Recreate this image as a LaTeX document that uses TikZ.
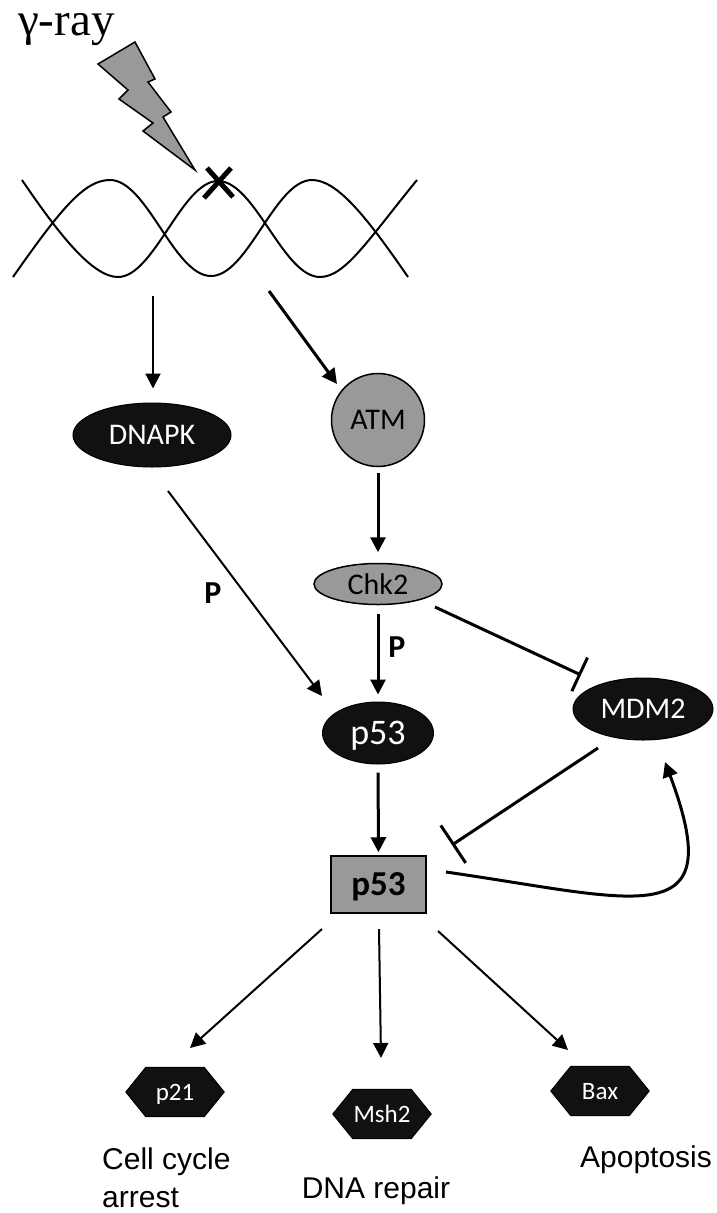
\documentclass[tikz,border=0pt]{standalone}
\usepackage{fontspec}
\newfontfamily\carlito{Carlito}
\newfontfamily\arialf{Liberation Sans}
\newfontfamily\timesf{Liberation Serif}
\usetikzlibrary{arrows.meta,shapes.geometric}
\definecolor{midgray}{RGB}{153,153,153}
\definecolor{nearblack}{RGB}{17,17,17}
\pgfdeclarelayer{background}
\pgfsetlayers{background,main}
\begin{document}
\begin{tikzpicture}[x=1pt,y=-1pt,
  thinarrow/.style={line width=2pt,-{Triangle[length=15pt,width=15pt]}},
  thickarrow/.style={line width=3pt,-{Triangle[length=15pt,width=15pt]}},
  inhib/.style={line width=3pt,-{Bar[width=#1]}},
  darkell/.style={ellipse,fill=nearblack,draw=black,line width=1pt,text=white,inner sep=0pt,text depth=0pt,font=\carlito\fontsize{30}{36}\selectfont},
  grayell/.style={ellipse,fill=midgray,draw=black,line width=1.5pt,text=black,inner sep=0pt,text depth=0pt,font=\carlito\fontsize{30}{36}\selectfont},
  hexnode/.style={rectangle,minimum width=98pt,minimum height=49pt,inner sep=0pt,text depth=0pt,text=white,font=\carlito\fontsize{25}{30}\selectfont},
  hexfill/.style={fill=nearblack,draw=black,line width=1pt},
  outlabel/.style={inner sep=0pt,font=\arialf\fontsize{30}{38}\selectfont},
  plabel/.style={inner sep=0pt,font=\carlito\bfseries\fontsize{32}{38}\selectfont},
  strand/.style={line width=2pt}
]
\useasboundingbox (0,0) rectangle (716,1213);

% gamma ray label and bolt
\node[inner sep=0pt,anchor=base west,font=\timesf\fontsize{47}{52}\selectfont] (gamma) at (18,35) {γ-ray};
\filldraw[fill=midgray,draw=black,line width=1.5pt,line join=miter]
  (98,64) -- (135,42) -- (155,79) -- (148,82) -- (171,112) -- (163,117) -- (195,170)
  -- (143,131) -- (153,123) -- (119,99) -- (128,90) -- cycle;

% DNA double helix
\draw[strand] (13,277) .. controls (62,207) and (85,180) .. (110,180)
  .. controls (147,180) and (174,276) .. (211,276)
  .. controls (248,276) and (275,180) .. (312,180)
  .. controls (337,180) and (366,216) .. (408,277);
\draw[strand] (22,180) .. controls (60,236) and (93,277) .. (118,277)
  .. controls (154,277) and (182,181) .. (218,181)
  .. controls (255,181) and (283,277) .. (320,277)
  .. controls (345,277) and (368,240) .. (417,180);
% damage mark
\draw[line width=5pt] (204,198) -- (231,168);
\draw[line width=5pt] (207,168) -- (233,197);

% nodes
\node[darkell,minimum width=158pt,minimum height=64pt] (dnapk) at (152,435) {DNAPK};
\node[circle,fill=midgray,draw=black,line width=1.5pt,minimum size=93pt,inner sep=0pt,text depth=0pt,font=\carlito\fontsize{30}{36}\selectfont] (atm) at (378,420) {ATM};
\node[grayell,minimum width=128pt,minimum height=41pt] (chk2) at (378,584) {Chk2};
\node[darkell,minimum width=111pt,minimum height=62pt,font=\carlito\fontsize{36}{40}\selectfont] (p53e) at (378,733) {p53};
\node[darkell,minimum width=140pt,minimum height=62pt] (mdm2) at (643,709) {MDM2};
\node[rectangle,fill=midgray,draw=black,line width=1.5pt,minimum width=95pt,minimum height=57pt,inner sep=0pt,text depth=0pt,font=\carlito\bfseries\fontsize{35}{40}\selectfont] (box) at (378.5,884.5) {p53};

\node[plabel] (pL) at (213,593) {P};
\node[plabel] (pR) at (397,647) {P};

\node[hexnode] (p21) at (175,1092) {p21};
\node[hexnode] (msh2) at (382,1114) {Msh2};
\node[hexnode] (bax) at (600,1091) {Bax};
\begin{pgfonlayer}{background}
\foreach \h in {p21,msh2,bax}
  \filldraw[hexfill] (\h.west) -- ([xshift=20pt]\h.north west) -- ([xshift=-20pt]\h.north east)
    -- (\h.east) -- ([xshift=-20pt]\h.south east) -- ([xshift=20pt]\h.south west) -- cycle;
\end{pgfonlayer}

\node[outlabel,align=left,anchor=base west] (lab1) at (102,1207) {Cell cycle\\arrest};
\node[outlabel,anchor=base] (lab2) at (376,1198) {DNA repair};
\node[outlabel,anchor=base] (lab3) at (646,1167) {Apoptosis};

% connectors
\coordinate (dnaL) at (153,296);
\coordinate (dnaR) at (269,291);
\coordinate (atmIn) at (337,384);
\coordinate (dnapkOut) at (168,491);
\coordinate (p53In) at (322,696);
\coordinate (chkOut) at (435,607);
\coordinate (mdmIn) at (581,675);
\coordinate (mdmOut) at (598,748);
\coordinate (boxIn) at (452,845);
\coordinate (boxOut) at (446,872);
\coordinate (mdmLoop) at (665,762);
\coordinate (oL) at (322,929);
\coordinate (oM) at (379,929);
\coordinate (oR) at (438,931);
\coordinate (iL) at (190,1048);
\coordinate (iM) at (381,1058);
\coordinate (iR) at (568,1050);

\draw[thinarrow,shorten >=14pt] (dnaL) -- (dnaL |- dnapk.north);
\draw[thickarrow] (dnaR) -- (atmIn);
\draw[thickarrow,shorten <=5.5pt,shorten >=10.5pt] (atm.south) -- (chk2.north);
\draw[thickarrow,shorten <=8.5pt,shorten >=7pt] (chk2.south) -- (p53e.north);
\draw[thinarrow] (dnapkOut) -- (p53In);
\draw[thickarrow,shorten <=8pt,shorten >=3pt] (p53e.south) -- (box.north);
\draw[inhib=37pt] (chkOut) -- (mdmIn);
\draw[inhib=45pt] (mdmOut) -- (boxIn);
\draw[thickarrow] (boxOut) .. controls (640,900) and (730,935) .. (mdmLoop);
\draw[thinarrow] (oL) -- (iL);
\draw[thinarrow] (oM) -- (iM);
\draw[thinarrow] (oR) -- (iR);
\end{tikzpicture}
\end{document}
